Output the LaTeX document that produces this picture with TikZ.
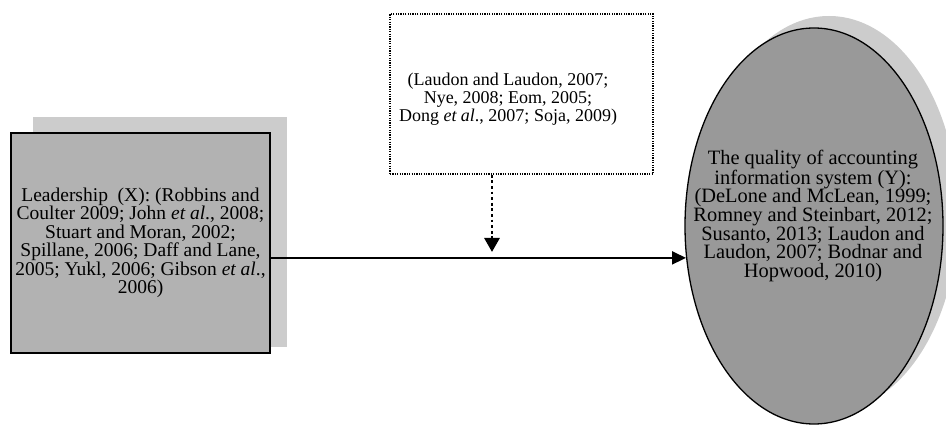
\documentclass[tikz,border=0pt]{standalone}
\usepackage{fontspec}
\setmainfont{Liberation Serif}
\usetikzlibrary{shapes.geometric,arrows.meta}
\definecolor{shadowgray}{gray}{0.80}
\definecolor{boxgray}{gray}{0.70}
\definecolor{ellgray}{gray}{0.60}
\begin{document}
\begin{tikzpicture}[x=1pt,y=-1pt,
  txt/.style={font=\fontsize{20}{18.6}\selectfont, align=center, text=black},
  leadbox/.style={txt, font=\fontsize{19.5}{18.5}\selectfont, draw=black, line width=1.5pt, fill=boxgray, minimum width=259pt, minimum height=220pt, inner sep=0pt},
  modbox/.style={draw=black, line width=1.8pt, dash pattern=on 1.2pt off 1.2pt, fill=white, minimum width=263pt, minimum height=160pt, inner sep=0pt},
  ybox/.style={ellipse, draw=black, line width=1.3pt, fill=ellgray, minimum width=258pt, minimum height=396pt, inner sep=0pt},
  mainarrow/.style={draw=black, line width=1.8pt, -{Triangle[width=13pt,length=14pt]}},
  dotarrow/.style={draw=black, line width=2.8pt, dash pattern=on 2.8pt off 2.8pt, -{Triangle[width=15pt,length=14pt]}}
]
\useasboundingbox (0,0) rectangle (946,425);
% shadows
\fill[shadowgray] (33,117) rectangle (287,347);
\fill[shadowgray] (829,214) ellipse [x radius=129, y radius=198];
% nodes
\node[leadbox] (lead) at (140.5,243) {Leadership\ \ (X): (Robbins and\\Coulter 2009; John \textit{et al}., 2008;\\Stuart and Moran, 2002;\\Spillane, 2006; Daff and Lane,\\2005; Yukl, 2006; Gibson \textit{et al}.,\\2006)};
\node[modbox] (mod) at (521.5,94) {};
\node[txt, font=\fontsize{18}{18}\selectfont] (modtext) at (508,99) {(Laudon and Laudon, 2007;\\Nye, 2008; Eom, 2005;\\Dong \textit{et al}., 2007; Soja, 2009)};
\node[ybox] (Y) at (814,226) {};
\node[txt, font=\fontsize{20.4}{18.7}\selectfont] (Ytext) at (813,216) {The quality of accounting\\information system (Y):\\(DeLone and McLean, 1999;\\Romney and Steinbart, 2012;\\Susanto, 2013; Laudon and\\Laudon, 2007; Bodnar and\\Hopwood, 2010)};
% connectors
\coordinate (tip) at (492,252);
\draw[mainarrow] (lead.east |- Y.194) -- (Y.194);
\draw[dotarrow] (tip |- mod.south) -- (tip);
\end{tikzpicture}
\end{document}
